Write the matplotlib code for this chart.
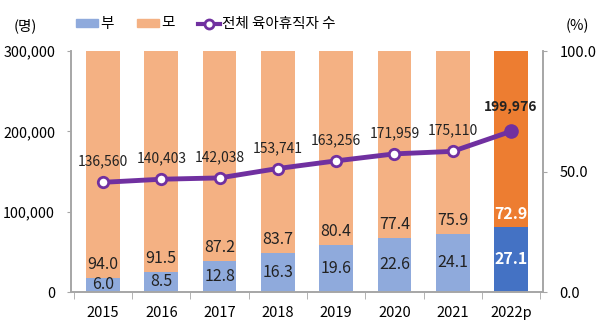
import matplotlib.pyplot as plt
from matplotlib.lines import Line2D
from matplotlib.patches import Patch

plt.rcParams['font.family'] = ['Noto Sans CJK KR', 'DejaVu Sans']

years = ["2015", "2016", "2017", "2018", "2019", "2020", "2021", "2022p"]
father = [6.0, 8.5, 12.8, 16.3, 19.6, 22.6, 24.1, 27.1]
mother = [94.0, 91.5, 87.2, 83.7, 80.4, 77.4, 75.9, 72.9]
total = [136560, 140403, 142038, 153741, 163256, 171959, 175110, 199976]

c_f, c_m = "#8FAADC", "#F4B183"
c_f_last, c_m_last = "#4472C4", "#ED7D31"
c_line = "#7030A0"
grey = "#A6A6A6"

fig = plt.figure(figsize=(6, 3.25), dpi=100)
ax2 = fig.add_axes([0.1183, 0.1015, 0.7867, 0.7415])  # percent (bars)
ax = ax2.twinx()
ax.yaxis.tick_left()
ax2.yaxis.tick_right()
ax.set_zorder(ax2.get_zorder() + 1)
ax.patch.set_visible(False)

x = list(range(len(years)))
fc = [c_f] * 7 + [c_f_last]
mc = [c_m] * 7 + [c_m_last]
ax2.bar(x, father, width=0.58, color=fc)
ax2.bar(x, mother, width=0.58, bottom=father, color=mc)

for i in x:
    last = i == len(x) - 1
    col = "white" if last else "#222222"
    w = "bold" if last else "normal"
    ax2.text(i, father[i] / 2, f"{father[i]:.1f}", ha="center", va="center",
             fontsize=11.5, color=col, fontweight=w)
    ax2.text(i, father[i] + 2, f"{mother[i]:.1f}", ha="center", va="bottom",
             fontsize=11.5, color=col, fontweight=w)

ax.plot(x, total, color=c_line, lw=3.5, zorder=3)
ax.plot(x[:-1], total[:-1], "o", ms=7.5, mfc="white", mec=c_line, mew=2, zorder=4)
ax.plot(x[-1:], total[-1:], "o", ms=9.5, mfc=c_line, mec=c_line, zorder=4)
for i in x:
    last = i == len(x) - 1
    ax.text(i, total[i] + (22000 if last else 17000), f"{total[i]:,}", ha="center",
            va="bottom", fontsize=10, color="#222222",
            fontweight="bold" if last else "normal")

ax2.set_ylim(0, 100)
ax.set_ylim(0, 300000)
ax2.set_xlim(-0.55, 7.55)
ax2.set_yticks([0, 50, 100])
ax2.set_yticklabels(["0.0", "50.0", "100.0"])
ax.set_yticks([0, 100000, 200000, 300000])
ax.set_yticklabels(["0", "100,000", "200,000", "300,000"])
ax2.set_xticks(x)
ax2.set_xticklabels(years)
ax2.set_xticks([i - 0.5 for i in range(len(years) + 1)], minor=True)
ax2.tick_params(axis="x", which="major", length=0, pad=10, labelsize=10.5)
ax2.tick_params(axis="x", which="minor", length=5, color=grey, direction="out")
ax2.tick_params(axis="y", length=3, color=grey, labelsize=10.5, pad=9)
ax.tick_params(axis="y", length=3, color=grey, labelsize=10.3, pad=8.5)

for a in (ax, ax2):
    a.spines["top"].set_visible(False)
    for s in ("left", "right", "bottom"):
        a.spines[s].set_color(grey)
        a.spines[s].set_linewidth(1.2)

fig.text(0.042, 0.92, "(명)", ha="center", va="center", fontsize=10.5)
fig.text(0.963, 0.92, "(%)", ha="center", va="center", fontsize=10.5)

handles = [Patch(color=c_f), Patch(color=c_m),
           Line2D([0], [0], color=c_line, lw=3, marker="o", ms=6.5, mfc="white", mec=c_line, mew=2)]
fig.legend(handles, ["부", "모", "전체 육아휴직자 수"], loc="center left",
           bbox_to_anchor=(0.127, 0.925), ncol=3, frameon=False, fontsize=10.5,
           handlelength=1.5, handletextpad=0.15, columnspacing=1.6, handleheight=0.45,
           borderaxespad=0, borderpad=0)

fig.savefig("out.png", dpi=100)
